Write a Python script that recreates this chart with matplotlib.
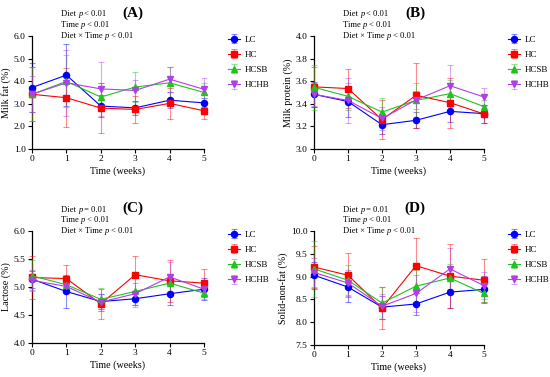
import numpy as np
import matplotlib
matplotlib.use("Agg")
import matplotlib.pyplot as plt
from matplotlib.colors import to_rgba
from matplotlib.offsetbox import TextArea, HPacker, VPacker, AnchoredOffsetbox

plt.rcParams['font.family'] = ['Liberation Serif', 'DejaVu Serif']

weeks = [0, 1, 2, 3, 4, 5]
groups = ['LC', 'HC', 'HCSB', 'HCHB']
colors = ['#0000FF', '#FF0000', '#1FC41F', '#B23FE6']
markers = ['o', 's', '^', 'v']

# (A) milk fat
fat_mean = {
    'LC':   [3.72, 4.27, 2.90, 2.82, 3.16, 3.04],
    'HC':   [3.42, 3.27, 2.81, 2.75, 3.02, 2.69],
    'HCSB': [3.42, 3.99, 3.30, 3.74, 3.93, 3.50],
    'HCHB': [3.42, 3.93, 3.66, 3.59, 4.09, 3.64],
}
fat_err = {
    'LC':   [1.10, 1.37, 0.50, 0.30, 0.35, 0.20],
    'HC':   [1.20, 1.30, 1.12, 0.60, 0.70, 0.38],
    'HCSB': [1.20, 1.15, 0.60, 0.65, 0.70, 0.40],
    'HCHB': [0.80, 1.45, 1.20, 0.45, 0.55, 0.50],
}
# (B) milk protein
prot_mean = {
    'LC':   [3.484, 3.42, 3.215, 3.254, 3.333, 3.313],
    'HC':   [3.55, 3.535, 3.26, 3.475, 3.41, 3.31],
    'HCSB': [3.546, 3.466, 3.327, 3.43, 3.49, 3.375],
    'HCHB': [3.484, 3.43, 3.27, 3.434, 3.56, 3.46],
}
prot_err = {
    'LC':   [0.11, 0.14, 0.08, 0.07, 0.09, 0.08],
    'HC':   [0.18, 0.17, 0.17, 0.29, 0.22, 0.08],
    'HCSB': [0.20, 0.12, 0.12, 0.15, 0.12, 0.06],
    'HCHB': [0.10, 0.20, 0.10, 0.08, 0.18, 0.08],
}
# (C) lactose
lact_mean = {
    'LC':   [5.14, 4.92, 4.74, 4.79, 4.88, 4.96],
    'HC':   [5.17, 5.15, 4.70, 5.22, 5.11, 5.07],
    'HCSB': [5.20, 5.04, 4.78, 4.92, 5.07, 4.89],
    'HCHB': [5.12, 5.01, 4.73, 4.88, 5.18, 4.96],
}
lact_err = {
    'LC':   [0.15, 0.29, 0.14, 0.12, 0.20, 0.20],
    'HC':   [0.38, 0.25, 0.27, 0.33, 0.38, 0.25],
    'HCSB': [0.28, 0.12, 0.20, 0.28, 0.15, 0.10],
    'HCHB': [0.18, 0.12, 0.15, 0.20, 0.27, 0.13],
}
# (D) solid-non-fat
snf_mean = {
    'LC':   [9.03, 8.77, 8.33, 8.40, 8.66, 8.72],
    'HC':   [9.21, 9.03, 8.31, 9.24, 9.01, 8.92],
    'HCSB': [9.17, 8.92, 8.42, 8.79, 8.97, 8.63],
    'HCHB': [9.09, 8.86, 8.35, 8.63, 9.17, 8.80],
}
snf_err = {
    'LC':   [0.30, 0.33, 0.25, 0.24, 0.34, 0.30],
    'HC':   [0.47, 0.48, 0.46, 0.60, 0.70, 0.47],
    'HCSB': [0.62, 0.33, 0.35, 0.35, 0.30, 0.18],
    'HCHB': [0.32, 0.28, 0.27, 0.40, 0.45, 0.30],
}

# p-value lines: (label, relation)
stats_ab = [('Diet', '< 0.01'), ('Time', '< 0.01'), ('Diet × Time', '< 0.01')]
stats_cd = [('Diet', '= 0.01'), ('Time', '< 0.01'), ('Diet × Time', '< 0.01')]

panels = [
    ('(A)', 'Milk fat (%)', fat_mean, fat_err, (1.0, 6.0), np.arange(1.0, 6.01, 1.0),
     stats_ab, [32, 36, 172, 113]),
    ('(B)', 'Milk protein (%)', prot_mean, prot_err, (3.0, 4.0), np.arange(3.0, 4.01, 0.2),
     stats_ab, [314, 36, 170, 113]),
    ('(C)', 'Lactose (%)', lact_mean, lact_err, (4.0, 6.0), np.arange(4.0, 6.01, 0.5),
     stats_cd, [32, 231, 172, 112]),
    ('(D)', 'Solid-non-fat (%)', snf_mean, snf_err, (7.5, 10.0), np.arange(7.5, 10.01, 0.5),
     stats_cd, [314, 231, 170, 114]),
]

W, H = 550, 377
fig = plt.figure(figsize=(W / 100, H / 100), dpi=100)

for title, ylabel, means, errs, ylim, yticks, stats, box in panels:
    l, t, w, h = box
    ax = fig.add_axes([l / W, 1 - (t + h) / H, w / W, h / H])
    handles = []
    for g, c, m in zip(groups, colors, markers):
        eb = ax.errorbar(weeks, means[g], yerr=errs[g], color=c, marker=m,
                         markersize=4.4, linewidth=0.8, capsize=2.2,
                         ecolor=to_rgba(c, 0.45), elinewidth=0.8, capthick=0.8,
                         label=g, clip_on=False, zorder=3)
        handles.append(eb)
    ax.set_xlim(0, 5)
    ax.set_ylim(*ylim)
    ax.set_xticks(weeks)
    ax.set_yticks(yticks)
    ax.set_yticklabels(['{:.1f}'.format(v) for v in yticks])
    ax.tick_params(labelsize=6.8, length=3, width=0.8, pad=1.5)
    for s in ['top', 'right']:
        ax.spines[s].set_visible(False)
    for s in ['left', 'bottom']:
        ax.spines[s].set_linewidth(0.9)
    ax.set_xlabel('Time (weeks)', fontsize=7.2, labelpad=2)
    ax.set_ylabel(ylabel, fontsize=7.2, labelpad=2)

    # panel title
    fig.text((l + 101) / W, 1 - (t - 23) / H, title, fontsize=11, fontweight='bold',
             ha='center', va='center')

    # statistics block with italic p
    rows = []
    for name, rel in stats:
        parts = [TextArea(name + ' ', textprops=dict(fontsize=6.1)),
                 TextArea('p', textprops=dict(fontsize=6.1, style='italic')),
                 TextArea(' ' + rel, textprops=dict(fontsize=6.1))]
        rows.append(HPacker(children=parts, align='baseline', pad=0, sep=0))
    block = VPacker(children=rows, align='left', pad=0, sep=2.0)
    anchored = AnchoredOffsetbox(loc='upper left', child=block, pad=0, borderpad=0,
                                 frameon=False,
                                 bbox_to_anchor=((l + 29) / W, 1 - (t - 25.5) / H),
                                 bbox_transform=fig.transFigure)
    fig.add_artist(anchored)

    ax.legend(handles, groups, loc='upper left',
              bbox_to_anchor=((l + w + 20) / W, 1 - (t - 4) / H),
              bbox_transform=fig.transFigure, frameon=False, fontsize=6.5,
              handlelength=1.4, handletextpad=0.55, labelspacing=0.75, borderaxespad=0)

fig.savefig('out.png', dpi=100)
